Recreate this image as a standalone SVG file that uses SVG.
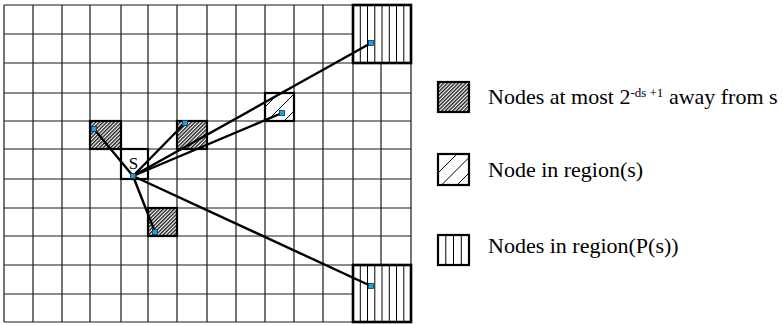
<svg xmlns="http://www.w3.org/2000/svg" width="783" height="325" viewBox="0 0 783 325">
  <style>
    .grid { stroke: #1a1a1a; stroke-width: 1.2; fill: none; }
    .cell { fill: none; stroke: #000; stroke-width: 2.2; }
    .big { fill: none; stroke: #000; stroke-width: 2.6; }
    .hatch { stroke: #000; stroke-width: 1; fill: none; }
    .link { stroke: #000; stroke-width: 2.4; fill: none; stroke-linecap: round; }
    .dot { fill: #19a3e6; stroke: #0b3550; stroke-width: 0.8; }
    .label { font-family: "Liberation Serif", "Times New Roman", serif; fill: #000; }
  </style>
  <defs>
    <pattern id="dense" width="2.6" height="2.6" patternUnits="userSpaceOnUse" patternTransform="rotate(45)">
      <rect width="2.6" height="2.6" fill="#fff"/>
      <rect width="1.4" height="2.6" fill="#222"/>
    </pattern>
    <clipPath id="clipR"><rect x="265" y="93" width="29" height="28"/></clipPath>
    <clipPath id="clipL"><rect x="438" y="154" width="31" height="31"/></clipPath>
  </defs>

  <rect width="783" height="325" fill="#fff"/>

  <!-- grid -->
  <g id="grid" class="grid">
    <path d="M4,5V322 M33,5V322 M62,5V322 M90,5V322 M121,5V322 M148,5V322 M177,5V322 M207,5V322 M236,5V322 M265,5V322 M294,5V322 M323,5V322 M353,5V322 M381,5V322 M411,5V322"/>
    <path d="M4,5H411 M4,34H411 M4,63H411 M4,93H411 M4,121H411 M4,149H411 M4,179H411 M4,208H411 M4,236H411 M4,265H411 M4,294H411 M4,322H411"/>
  </g>

  <!-- region(P(s)) blocks -->
  <g id="ps-top">
    <rect x="353" y="5" width="58" height="58" fill="#fff"/>
    <path class="hatch" d="M360.3,5V63 M367.5,5V63 M374.8,5V63 M382,5V63 M389.3,5V63 M396.5,5V63 M403.8,5V63"/>
    <rect class="big" x="353" y="5" width="58" height="58"/>
  </g>
  <g id="ps-bottom">
    <rect x="353" y="265" width="58" height="57" fill="#fff"/>
    <path class="hatch" d="M360.3,265V322 M367.5,265V322 M374.8,265V322 M382,265V322 M389.3,265V322 M396.5,265V322 M403.8,265V322"/>
    <rect class="big" x="353" y="265" width="58" height="57"/>
  </g>

  <!-- region(s) node -->
  <g id="region-s">
    <rect x="265" y="93" width="29" height="28" fill="#fff"/>
    <g clip-path="url(#clipR)" class="hatch">
      <path d="M265,107L279,93 M265,123L295,93 M265,140L312,93"/>
    </g>
    <rect class="cell" x="265" y="93" width="29" height="28"/>
  </g>

  <!-- nearby nodes -->
  <g id="near-1">
    <rect x="90" y="121" width="31" height="28" fill="url(#dense)"/>
    <rect class="cell" x="90" y="121" width="31" height="28"/>
  </g>
  <g id="near-2">
    <rect x="177" y="121" width="30" height="28" fill="url(#dense)"/>
    <rect class="cell" x="177" y="121" width="30" height="28"/>
  </g>
  <g id="near-3">
    <rect x="148" y="208" width="29" height="28" fill="url(#dense)"/>
    <rect class="cell" x="148" y="208" width="29" height="28"/>
  </g>

  <!-- source node s -->
  <g id="node-s">
    <rect x="121" y="149" width="27" height="30" fill="#fff"/>
    <rect class="cell" x="121" y="149" width="27" height="30"/>
    <text class="label" x="133.5" y="169" font-size="17" text-anchor="middle">S</text>
  </g>

  <!-- connectors from s -->
  <g id="connectors" class="link">
    <line x1="133" y1="176" x2="94" y2="129"/>
    <line x1="133" y1="176" x2="185" y2="123"/>
    <line x1="133" y1="176" x2="282" y2="113"/>
    <line x1="133" y1="176" x2="371" y2="43"/>
    <line x1="133" y1="176" x2="371" y2="286"/>
    <line x1="133" y1="176" x2="155" y2="232"/>
  </g>

  <!-- endpoint markers -->
  <g id="dots">
    <rect class="dot" x="130.5" y="173.5" width="5" height="5"/>
    <rect class="dot" x="91.5" y="126.5" width="5" height="5"/>
    <rect class="dot" x="182.5" y="120.5" width="5" height="5"/>
    <rect class="dot" x="279.5" y="110.5" width="5" height="5"/>
    <rect class="dot" x="368.5" y="40.5" width="5" height="5"/>
    <rect class="dot" x="368.5" y="283.5" width="5" height="5"/>
    <rect class="dot" x="152.5" y="229.5" width="5" height="5"/>
  </g>

  <!-- legend -->
  <g id="legend-near">
    <rect x="438" y="82" width="31" height="30" fill="url(#dense)"/>
    <rect class="cell" x="438" y="82" width="31" height="30"/>
    <text class="label" x="488" y="104" font-size="22">Nodes at most 2<tspan font-size="13" dy="-7">-ds +1</tspan><tspan dy="7"> away from s</tspan></text>
  </g>
  <g id="legend-region">
    <g clip-path="url(#clipL)" class="hatch">
      <path d="M438,173L457,154 M438,188.5L472.5,154 M438,204L488,154"/>
    </g>
    <rect class="cell" x="438" y="154" width="31" height="31"/>
    <text class="label" x="488" y="177" font-size="22">Node in region(s)</text>
  </g>
  <g id="legend-ps">
    <path class="hatch" d="M445.8,235V265 M453.5,235V265 M461.3,235V265"/>
    <rect class="cell" x="438" y="235" width="31" height="30"/>
    <text class="label" x="488" y="253" font-size="22">Nodes in region(P(s))</text>
  </g>
</svg>
